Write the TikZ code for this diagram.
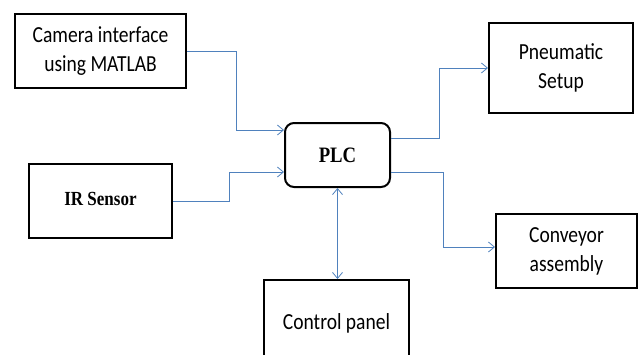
\documentclass[tikz,border=0pt]{standalone}
\usepackage{fontspec}
\newfontfamily\calib[FakeStretch=0.85]{Carlito}
\newfontfamily\tms[FakeStretch=0.85]{Liberation Serif}
\usetikzlibrary{arrows.meta,positioning,calc}
\definecolor{lnkblue}{RGB}{79,129,189}

\begin{document}
\begin{tikzpicture}[x=1pt,y=-1pt,
   >={Straight Barb[length=6pt,width=10pt]},
   blk/.style={draw,line width=2pt,align=center,inner sep=0pt,font=\calib\fontsize{23}{29}\selectfont},
   lnk/.style={draw=lnkblue,line width=0.8pt,->}]
  \useasboundingbox (0,0) rectangle (639,354);
  \clip (0,0) rectangle (639,354);
  \node[blk,minimum width=171pt,minimum height=74pt] (cam) at (100.5,51) {Camera interface\\using MATLAB};
  \node[blk,minimum width=143pt,minimum height=74pt,font=\tms\fontsize{20}{24}\selectfont\bfseries] (ir) at (100.5,201) {\raisebox{5pt}{IR Sensor}};
  \node[blk,rounded corners=9pt,minimum width=105pt,minimum height=64pt,font=\tms\fontsize{22}{26}\selectfont\bfseries] (plc) at (337.5,155) {PLC};
  \node[blk,minimum width=144pt,minimum height=90pt] (pneu) at (561,68) {Pneumatic\\Setup};
  \node[blk,minimum width=141pt,minimum height=74pt] (conv) at (566.5,251) {Conveyor\\assembly};
  \node[blk,minimum width=145pt,minimum height=86pt] (ctrl) at (336.5,323) {Control panel};
  \draw[lnk] (cam.east) -- ++(49,0) |- ([yshift=25pt]plc.west);
  \draw[lnk] (ir.east) -- ++(56,0) |- ([yshift=-17pt]plc.west);
  \draw[lnk] ([yshift=17pt]plc.east) -- ++(48,0) |- (pneu.west);
  \draw[lnk] ([yshift=-17pt]plc.east) -- ++(52,0) |- ([yshift=4pt]conv.west);
  \draw[lnk,<->] (plc.south) -- (plc.south |- ctrl.north);
\end{tikzpicture}
\end{document}
